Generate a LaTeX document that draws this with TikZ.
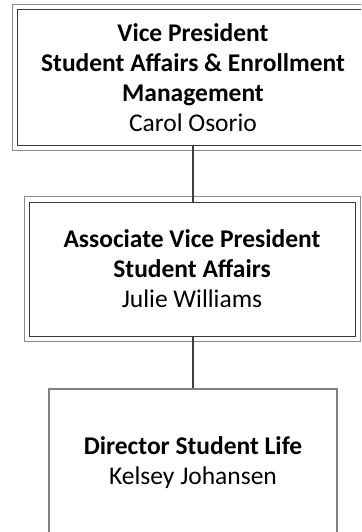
\documentclass[tikz,border=0pt]{standalone}
\usepackage{fontspec}
\setmainfont{Carlito}
\usetikzlibrary{calc}

\tikzset{
  orgbox/.style={draw=black!78, line width=1pt, fill=white, align=center, inner sep=0pt,
    font=\fontsize{25.5}{30}\selectfont},
  outerframe/.style={draw=black!45, line width=1pt},
  link/.style={draw=black!75, line width=2.5pt},
}

\begin{document}
\begin{tikzpicture}[x=1pt,y=-1pt]
	%%%%% START %%%%%
	\useasboundingbox (0,0) rectangle (361,532);
	\clip (0,0) rectangle (361,532);
	
	\node[orgbox, minimum width=352pt, minimum height=135pt] (vp) at (193,77.5)
		{\textbf{Vice President}\\\textbf{Student Affairs \& Enrollment}\\\textbf{Management}\\Carol Osorio};
	\draw[outerframe] ($(vp.north west)+(-4,-5)$) rectangle ($(vp.south east)+(4,5)$);
	
	\node[orgbox, minimum width=326pt, minimum height=134pt] (avp) at (192,269)
		{\textbf{Associate Vice President}\\\textbf{Student Affairs}\\Julie Williams};
	\draw[outerframe] ($(avp.north west)+(-4,-5)$) rectangle ($(avp.south east)+(5,5)$);
	
	\node[orgbox, draw=black!50, line width=1.3pt, minimum width=288pt, minimum height=147pt] (dir) at (193,462.5)
		{\textbf{Director Student Life}\\Kelsey Johansen};
	
	\draw[link] (vp.south) -- (vp.south |- avp.north);
	\draw[link] (avp.south -| dir.north) -- (dir.north);
	%%%%% END %%%%%
\end{tikzpicture}
\end{document}
